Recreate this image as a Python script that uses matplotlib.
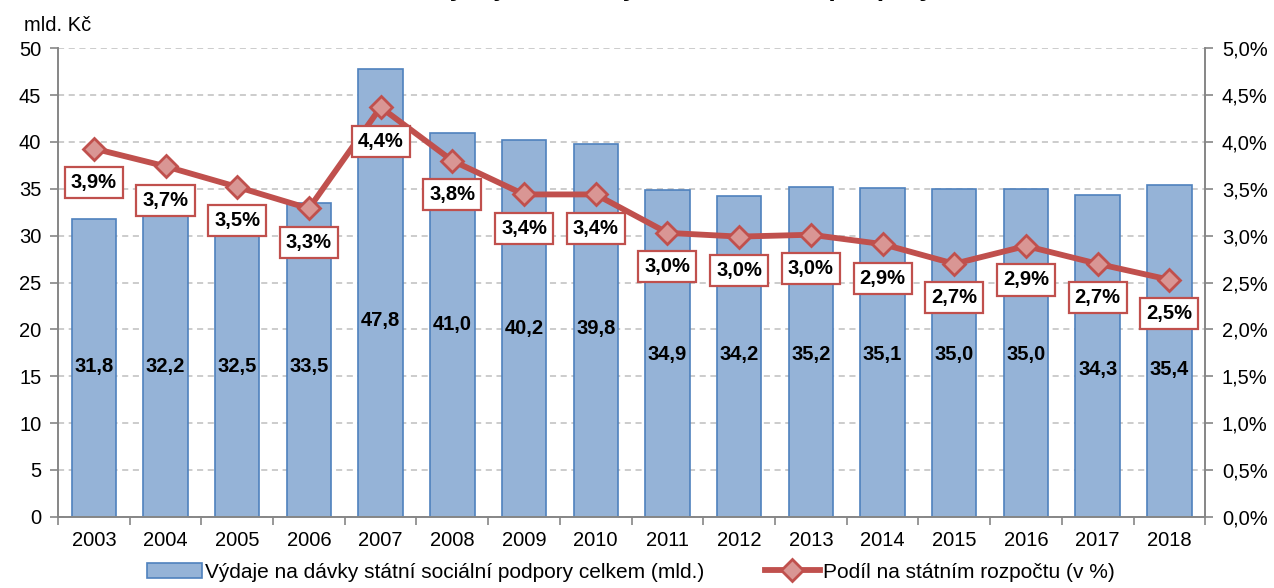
import matplotlib.pyplot as plt
import matplotlib
from matplotlib.ticker import FuncFormatter, MultipleLocator

matplotlib.rcParams['font.family'] = ['Liberation Sans', 'DejaVu Sans']

# data
years = ['2003', '2004', '2005', '2006', '2007', '2008', '2009', '2010',
         '2011', '2012', '2013', '2014', '2015', '2016', '2017', '2018']
vydaje = [31.8, 32.2, 32.5, 33.5, 47.8, 41.0, 40.2, 39.8,
          34.9, 34.2, 35.2, 35.1, 35.0, 35.0, 34.3, 35.4]
podil = [3.93, 3.74, 3.52, 3.29, 4.37, 3.80, 3.44, 3.44,
         3.03, 2.99, 3.01, 2.91, 2.70, 2.89, 2.70, 2.53]
# vyska popisku sloupcu (mld. Kc)
label_y = [16.0, 16.0, 16.0, 16.0, 20.9, 20.5, 20.1, 20.1,
           17.3, 17.3, 17.3, 17.3, 17.3, 17.3, 15.7, 15.7]

bar_face = '#95B3D7'
bar_edge = '#4F81BD'
red = '#C0504D'
grey = '#868686'

fig = plt.figure(figsize=(12.74, 5.88), dpi=100)
ax1 = fig.add_axes([0.0455, 0.121, 0.9005, 0.797])
ax2 = ax1.twinx()

x = list(range(len(years)))
bars = ax1.bar(x, vydaje, width=0.62, color=bar_face, edgecolor=bar_edge,
               linewidth=1.2, zorder=2,
               label='Výdaje na dávky státní sociální podpory celkem (mld.)')
for i, v in enumerate(vydaje):
    ax1.text(i, label_y[i], f'{v:.1f}'.replace('.', ','), ha='center', va='center',
             fontsize=14.5, fontweight='bold', zorder=3)

ax1.set_ylim(0, 50)
ax1.set_xlim(-0.5, len(years) - 0.5)
ax1.yaxis.set_major_locator(MultipleLocator(5))
ax1.grid(axis='y', color='#BFBFBF', linestyle=(0, (4, 3)), linewidth=1.1, zorder=0)
ax1.set_axisbelow(True)
ax1.set_xticks(x)
ax1.set_xticklabels(years)
ax1.set_xticks([i - 0.5 for i in range(len(years) + 1)], minor=True)
ax1.tick_params(axis='x', which='major', length=0, pad=10, labelsize=14.5)
ax1.tick_params(axis='x', which='minor', length=6, color=grey, width=1.2)
ax1.tick_params(axis='y', length=6, color=grey, width=1.2, labelsize=14.5, pad=6)

line, = ax2.plot(x, podil, color=red, linewidth=4.2, marker='D', markersize=11,
                 markerfacecolor='#D99694', markeredgecolor=red, markeredgewidth=2,
                 zorder=4, label='Podíl na státním rozpočtu (v %)')
for i, p in enumerate(podil):
    ax2.annotate(f'{p:.1f}%'.replace('.', ','), xy=(i, p), xytext=(0, -34),
                 textcoords='offset pixels', ha='center', va='center',
                 fontsize=14.5, fontweight='bold', zorder=5,
                 bbox=dict(boxstyle='square,pad=0.3', facecolor='white',
                           edgecolor=red, linewidth=1.6))
ax2.set_ylim(0, 5)
ax2.yaxis.set_major_locator(MultipleLocator(0.5))
ax2.yaxis.set_major_formatter(FuncFormatter(lambda v, pos: f'{v:.1f}%'.replace('.', ',')))
ax2.tick_params(axis='y', length=6, color=grey, width=1.2, labelsize=14.5, pad=6)

for ax in (ax1, ax2):
    ax.spines['top'].set_visible(False)
    for s in ('left', 'right', 'bottom'):
        ax.spines[s].set_color(grey)
        ax.spines[s].set_linewidth(1.2)

fig.text(0.019, 0.957, 'mld. Kč', fontsize=14.5, ha='left', va='center')
# nadpis je v originale oriznuty, videt jsou jen dolni cast pismen
fig.text(0.536, 1 + 4 / 588, 'Výdaje na dávky státní sociální podpory',
         fontsize=19, fontweight='bold', ha='center', va='baseline')

fig.legend([bars, line], [bars.get_label(), line.get_label()], loc='center',
           bbox_to_anchor=(0.495, 0.027), ncol=2, frameon=False, fontsize=15,
           handlelength=2.65, handletextpad=0.15, columnspacing=2.9)

fig.savefig('out.png', dpi=100)
